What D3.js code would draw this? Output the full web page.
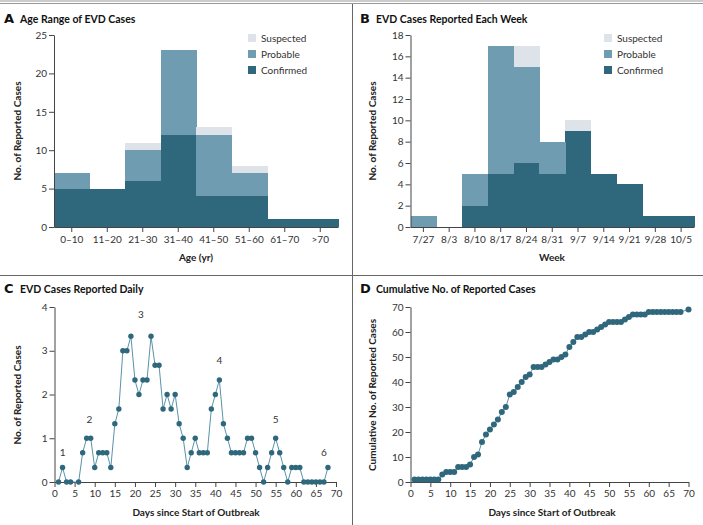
<!DOCTYPE html>
<html>
<head>
<meta charset="utf-8">
<script src="https://cdn.jsdelivr.net/npm/d3@7"></script>
<style>
  body { margin: 0; background: #fff; }
  svg { display: block; font-family: Lato, "Open Sans", sans-serif; }
</style>
</head>
<body>
<div id="chart"></div>
<script>
// panel A
const ageGroups = ["0–10", "11–20", "21–30", "31–40", "41–50", "51–60", "61–70", ">70"];
const ageConfirmed = [5, 5, 6, 12, 4, 4, 1, 1];
const ageProbable = [2, 0, 4, 11, 8, 3, 0, 0];
const ageSuspected = [0, 0, 1, 0, 1, 1, 0, 0];
const ageTicks = [0, 5, 10, 15, 20, 25];

// panel B
const weeks = ["7/27", "8/3", "8/10", "8/17", "8/24", "8/31", "9/7", "9/14", "9/21", "9/28", "10/5"];
const weekConfirmed = [0, 0, 2, 5, 6, 5, 9, 5, 4, 1, 1];
const weekProbable = [1, 0, 3, 12, 9, 3, 0, 0, 0, 0, 0];
const weekSuspected = [0, 0, 0, 0, 2, 0, 1, 0, 0, 0, 0];
const weekTicks = [0, 2, 4, 6, 8, 10, 12, 14, 16, 18];

// panel C (day 5 not reported)
const dailyDays = [1, 2, 3, 4, 6, 7, 8, 9, 10, 11, 12, 13, 14, 15, 16, 17, 18, 19, 20,
    21, 22, 23, 24, 25, 26, 27, 28, 29, 30, 31, 32, 33, 34, 35, 36, 37, 38, 39, 40,
    41, 42, 43, 44, 45, 46, 47, 48, 49, 50, 51, 52, 53, 54, 55, 56, 57, 58, 59, 60,
    61, 62, 63, 64, 65, 66, 67, 68];
const dailyCases = [0, 0.33, 0, 0, 0, 0.67, 1, 1, 0.33, 0.67, 0.67, 0.67, 0.33, 1.33, 1.67, 3, 3, 3.33, 2.33,
    2, 2.33, 2.33, 3.33, 2.67, 2.67, 1.67, 2, 1.67, 2, 1.33, 1, 0.33, 0.67, 1, 0.67, 0.67, 0.67, 1.67, 2,
    2.33, 1.33, 1, 0.67, 0.67, 0.67, 0.67, 1, 1, 0.67, 0.33, 0, 0.33, 0.67, 1, 0.67, 0.33, 0, 0.33, 0.33,
    0.33, 0, 0, 0, 0, 0, 0, 0.33];
const waveLabels = ["1", "2", "3", "4", "5", "6"];
const waveDays = [2, 8.7, 21.5, 41, 55, 67];
const waveValues = [0.6, 1.35, 3.75, 2.7, 1.35, 0.6];

// panel D
const cumDays = [1, 2, 3, 4, 5, 6, 7, 8, 9, 10, 11, 12, 13, 14, 15, 16, 17, 18, 19, 20,
    21, 22, 23, 24, 25, 26, 27, 28, 29, 30, 31, 32, 33, 34, 35, 36, 37, 38, 39, 40,
    41, 42, 43, 44, 45, 46, 47, 48, 49, 50, 51, 52, 53, 54, 55, 56, 57, 58, 59, 60,
    61, 62, 63, 64, 65, 66, 67, 68, 70];
const cumCases = [1, 1, 1, 1, 1, 1, 1, 3, 4, 4, 4, 6, 6, 6, 7, 10, 11, 16, 19, 21,
    23, 25, 28, 30, 35, 36, 38, 40, 42, 43, 46, 46, 46, 47, 48, 49, 49, 50, 51, 54,
    56, 58, 58, 59, 60, 60, 61, 62, 63, 64, 64, 64, 64, 65, 66, 67, 67, 67, 67, 68,
    68, 68, 68, 68, 68, 68, 68, 68, 69];
const dayTicks = [0, 5, 10, 15, 20, 25, 30, 35, 40, 45, 50, 55, 60, 65, 70];

const colors = { confirmed: "#2f687c", probable: "#6f9cb0", suspected: "#dde3e8" };
const legendKeys = ["suspected", "probable", "confirmed"];
const legendNames = { suspected: "Suspected", probable: "Probable", confirmed: "Confirmed" };

const width = 703, height = 525;
const textColor = "#333", axisColor = "#444";

const svg = d3.select("#chart").append("svg")
    .attr("width", width).attr("height", height);

// frame lines
svg.append("line").attr("x1", 0).attr("x2", width).attr("y1", 1).attr("y2", 1)
    .attr("stroke", "#999").attr("stroke-width", 1);
svg.append("line").attr("x1", 0).attr("x2", width).attr("y1", 3.5).attr("y2", 3.5)
    .attr("stroke", "#999").attr("stroke-width", 1);
svg.append("line").attr("x1", 352.5).attr("x2", 352.5).attr("y1", 4).attr("y2", height)
    .attr("stroke", "#666").attr("stroke-width", 1);
svg.append("line").attr("x1", 0).attr("x2", width).attr("y1", 275.5).attr("y2", 275.5)
    .attr("stroke", "#666").attr("stroke-width", 1);

function styleAxis(g) {
    g.attr("font-family", "Lato, sans-serif").attr("font-size", 10);
    g.selectAll(".domain").attr("stroke", axisColor);
    g.selectAll(".tick line").attr("stroke", axisColor);
    g.selectAll(".tick text").attr("fill", textColor);
}

function title(x, y, letter, text) {
    svg.append("text").attr("x", x).attr("y", y)
        .attr("font-family", "'DejaVu Sans', sans-serif")
        .attr("font-weight", "bold").attr("font-size", 13).attr("fill", "#111")
        .text(letter);
    svg.append("text").attr("x", x + 16).attr("y", y)
        .attr("font-weight", "bold").attr("font-size", 10.5).attr("fill", "#111")
        .text(text);
}

function axisLabel(x, y, text, rotate) {
    svg.append("text")
        .attr("transform", `translate(${x},${y})` + (rotate ? " rotate(-90)" : ""))
        .attr("text-anchor", "middle")
        .attr("font-weight", "bold").attr("font-size", 10).attr("fill", "#222")
        .text(text);
}

function stackedPanel(opts) {
    const rows = opts.cats.map((c, i) => ({
        cat: c,
        confirmed: opts.confirmed[i],
        probable: opts.probable[i],
        suspected: opts.suspected[i]
    }));

    const x = d3.scaleBand().domain(opts.cats).range(opts.xRange).padding(0);
    const y = d3.scaleLinear().domain([0, opts.yMax]).range(opts.yRange);

    const series = d3.stack().keys(["confirmed", "probable", "suspected"])(rows);

    svg.append("g").selectAll("g")
        .data(series)
        .enter()
        .append("g")
        .attr("fill", s => colors[s.key])
        .selectAll("rect")
        .data(s => s)
        .enter()
        .append("rect")
        .attr("x", d => x(d.data.cat))
        .attr("width", x.bandwidth() + 0.5)
        .attr("y", d => y(d[1]))
        .attr("height", d => y(d[0]) - y(d[1]))
        .attr("shape-rendering", "crispEdges");

    svg.append("g")
        .attr("transform", `translate(0,${opts.yRange[0]})`)
        .call(d3.axisBottom(x).tickSize(5).tickPadding(4).tickSizeOuter(0))
        .call(styleAxis);

    svg.append("g")
        .attr("transform", `translate(${opts.xRange[0]},0)`)
        .call(d3.axisLeft(y).tickValues(opts.yTicks).tickSize(5).tickPadding(2).tickSizeOuter(0))
        .call(styleAxis);

    // legend
    const legend = svg.append("g").attr("transform", `translate(${opts.legendX},34)`);
    legendKeys.forEach((k, i) => {
        legend.append("rect")
            .attr("x", 0).attr("y", i * 16)
            .attr("width", 8).attr("height", 8)
            .attr("fill", colors[k]);
        legend.append("text")
            .attr("x", 13).attr("y", i * 16 + 7.5)
            .attr("font-size", 10).attr("fill", textColor)
            .text(legendNames[k]);
    });
}

// A
title(4, 23, "A", "Age Range of EVD Cases");
stackedPanel({
    cats: ageGroups, confirmed: ageConfirmed, probable: ageProbable, suspected: ageSuspected,
    xRange: [54, 338], yRange: [227, 35], yMax: 25, yTicks: ageTicks, legendX: 248
});
axisLabel(196, 261, "Age (yr)");
axisLabel(21, 131, "No. of Reported Cases", true);

// B
title(360, 23, "B", "EVD Cases Reported Each Week");
stackedPanel({
    cats: weeks, confirmed: weekConfirmed, probable: weekProbable, suspected: weekSuspected,
    xRange: [410.5, 694], yRange: [227, 35], yMax: 18, yTicks: weekTicks, legendX: 604
});
axisLabel(552, 261, "Week");
axisLabel(376, 131, "No. of Reported Cases", true);

// C
title(4, 293, "C", "EVD Cases Reported Daily");
const xC = d3.scaleLinear().domain([0, 70]).range([54.5, 336]);
const yC = d3.scaleLinear().domain([0, 4]).range([482, 307]);

svg.append("g")
    .attr("transform", "translate(0,482)")
    .call(d3.axisBottom(xC).tickValues(dayTicks).tickSize(5).tickPadding(3).tickSizeOuter(0))
    .call(styleAxis);
svg.append("g")
    .attr("transform", "translate(54.5,0)")
    .call(d3.axisLeft(yC).ticks(4).tickSize(5).tickPadding(2).tickSizeOuter(0))
    .call(styleAxis);

const dailyData = dailyDays.map((d, i) => ({ day: d, value: dailyCases[i] }));

svg.append("path")
    .datum(dailyData)
    .attr("fill", "none")
    .attr("stroke", "#5a93a8")
    .attr("stroke-width", 1)
    .attr("d", d3.line().x(d => xC(d.day)).y(d => yC(d.value)));

svg.append("g").selectAll("circle")
    .data(dailyData)
    .enter()
    .append("circle")
    .attr("cx", d => xC(d.day))
    .attr("cy", d => yC(d.value))
    .attr("r", 2.7)
    .attr("fill", colors.confirmed);

svg.append("g").selectAll("text")
    .data(waveLabels)
    .enter()
    .append("text")
    .attr("x", (d, i) => xC(waveDays[i]))
    .attr("y", (d, i) => yC(waveValues[i]))
    .attr("text-anchor", "middle")
    .attr("font-size", 10).attr("fill", textColor)
    .text(d => d);

axisLabel(196, 516, "Days since Start of Outbreak");
axisLabel(21, 395, "No. of Reported Cases", true);

// D
title(360, 293, "D", "Cumulative No. of Reported Cases");
const xD = d3.scaleLinear().domain([0, 70]).range([410.5, 688.5]);
const yD = d3.scaleLinear().domain([0, 70]).range([482, 307]);

svg.append("g")
    .attr("transform", "translate(0,482)")
    .call(d3.axisBottom(xD).tickValues(dayTicks).tickSize(5).tickPadding(3).tickSizeOuter(0))
    .call(styleAxis);
svg.append("g")
    .attr("transform", "translate(410.5,0)")
    .call(d3.axisLeft(yD).ticks(7).tickSize(5).tickPadding(2).tickSizeOuter(0))
    .call(styleAxis);

const cumData = cumDays.map((d, i) => ({ day: d, value: cumCases[i] }));

svg.append("path")
    .datum(cumData)
    .attr("fill", "none")
    .attr("stroke", "#5a93a8")
    .attr("stroke-width", 1)
    .attr("d", d3.line().x(d => xD(d.day)).y(d => yD(d.value)));

svg.append("g").selectAll("circle")
    .data(cumData)
    .enter()
    .append("circle")
    .attr("cx", d => xD(d.day))
    .attr("cy", d => yD(d.value))
    .attr("r", 3)
    .attr("fill", colors.confirmed);

axisLabel(552, 516, "Days since Start of Outbreak");
axisLabel(376, 395, "Cumulative No. of Reported Cases", true);
</script>
</body>
</html>
